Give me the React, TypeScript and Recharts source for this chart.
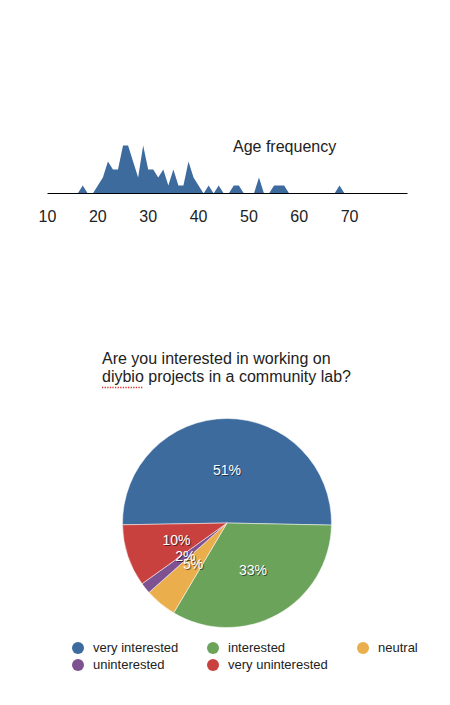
import React from "react";
import { Area, AreaChart, Cell, Legend, Pie, PieChart, XAxis, YAxis } from "recharts";

// age histogram (respondents per year of age)
const ages = [16, 17, 18, 19, 20, 21, 22, 23, 24, 25, 26, 27, 28, 29, 30, 31, 32, 33, 34, 35, 36, 37, 38, 39, 40, 41, 42, 43, 44, 45, 46, 47, 48, 49, 50, 51, 52, 53, 54, 55, 56, 57, 58, 59, 60, 61, 62, 63, 64, 65, 66, 67, 68, 69];
const ageCounts = [0, 1, 0, 0, 1, 2, 4, 3, 3, 6, 6, 4, 2, 6, 3, 3, 2, 3, 1, 3, 1, 1, 4, 2, 1, 0, 1, 0, 1, 0, 0, 1, 1, 0, 0, 0, 2, 0, 0, 1, 1, 1, 0, 0, 0, 0, 0, 0, 0, 0, 0, 0, 1, 0];
const ageTicks = [10, 20, 30, 40, 50, 60, 70];

// community lab interest (percent of respondents)
const interestLabels = ["very interested", "interested", "neutral", "uninterested", "very uninterested"];
const interestShares = [50.6, 33.2, 4.9, 1.7, 9.6];
const interestColors = ["#3d6b9e", "#6ca35b", "#ebae4d", "#7e5190", "#c9413f"];

const FONT = "'Liberation Sans', Helvetica, Arial, sans-serif";

const ageData = ages.map((age, i) => ({ age, count: ageCounts[i] }));
const interestData = interestLabels.map((name, i) => ({ name, value: interestShares[i] }));

const RADIAN = Math.PI / 180;

function sliceLabel(props: any) {
  const { cx, cy, midAngle, outerRadius, percent } = props;
  const r = outerRadius * 0.51;
  const x = cx + r * Math.cos(-midAngle * RADIAN);
  const y = cy + r * Math.sin(-midAngle * RADIAN);
  const text = `${Math.round(percent * 100)}%`;
  return (
    <g>
      <text x={x + 1} y={y + 1} textAnchor="middle" dominantBaseline="central" fontSize={14} fontFamily={FONT} fill="rgba(0,0,0,0.55)">
        {text}
      </text>
      <text x={x} y={y} textAnchor="middle" dominantBaseline="central" fontSize={14} fontFamily={FONT} fill="#fff">
        {text}
      </text>
    </g>
  );
}

const legendCols = [78, 213, 363];
const legendRows = [645, 662];

function InterestLegend(props: any) {
  // keep the data order rather than the legend's alphabetical sort
  const items = [...(props.payload || [])].sort(
    (a: any, b: any) => interestLabels.indexOf(a.value) - interestLabels.indexOf(b.value)
  );
  return (
    <div style={{ position: "relative", width: 450, height: 40 }}>
      {items.map((entry: any, i: number) => (
        <div
          key={entry.value}
          style={{
            position: "absolute",
            left: legendCols[i % 3] - 6,
            top: legendRows[Math.floor(i / 3)] - 645 + 2,
            display: "flex",
            alignItems: "center",
            fontFamily: FONT,
            fontSize: 13,
            color: "#222",
            whiteSpace: "nowrap",
            lineHeight: "13px",
          }}
        >
          <span style={{ width: 12, height: 12, borderRadius: 6, background: entry.color, display: "inline-block", marginRight: 9 }} />
          {entry.value}
        </div>
      ))}
    </div>
  );
}

export default function App() {
  return (
    <div style={{ position: "absolute", left: 0, top: 0, width: 450, height: 705, background: "#fff" }}>
      <div style={{ position: "absolute", left: 0, top: 0 }}>
        <AreaChart width={450} height={240} data={ageData} margin={{ top: 145.5, right: 42.5, left: 47.5, bottom: 16.5 }}>
          <XAxis
            dataKey="age"
            type="number"
            domain={[10, 81.5]}
            ticks={ageTicks}
            interval={0}
            height={30}
            tickLine={false}
            tickMargin={11}
            axisLine={{ stroke: "#000", strokeWidth: 1.2 }}
            tick={{ fontSize: 16, fill: "#222", fontFamily: FONT }}
          />
          <YAxis hide domain={[0, 6]} />
          <Area type="linear" dataKey="count" stroke="none" fill="#3d6b9e" fillOpacity={1} isAnimationActive={false} />
        </AreaChart>
      </div>

      <div style={{ position: "absolute", left: 0, top: 400 }}>
        <PieChart width={450} height={300} margin={{ top: 0, right: 0, bottom: 0, left: 0 }}>
          <Pie
            data={interestData}
            dataKey="value"
            nameKey="name"
            cx={227}
            cy={123}
            outerRadius={104.5}
            startAngle={181}
            endAngle={-179}
            stroke="#fff"
            strokeWidth={0.5}
            label={sliceLabel}
            labelLine={false}
            isAnimationActive={false}
          >
            {interestData.map((d, i) => (
              <Cell key={d.name} fill={interestColors[i]} />
            ))}
          </Pie>
          <Legend content={InterestLegend} wrapperStyle={{ position: "absolute", left: 0, top: 239, width: 450, height: 40 }} />
        </PieChart>
      </div>

      <svg width={450} height={705} style={{ position: "absolute", left: 0, top: 0, pointerEvents: "none" }}>
        <text x={233} y={151.7} fontSize={16} fontFamily={FONT} fill="#222">
          Age frequency
        </text>
        <text x={102} y={364} fontSize={16} fontFamily={FONT} fill="#222">
          Are you interested in working on
        </text>
        <text x={102} y={381.7} fontSize={16} fontFamily={FONT} fill="#222">
          diybio projects in a community lab?
        </text>
        {/* spell-check squiggle under "diybio" */}
        <line x1={102} y1={387.5} x2={143} y2={387.5} stroke="#e03030" strokeWidth={1.3} strokeDasharray="1.3 1.3" />
      </svg>
    </div>
  );
}
